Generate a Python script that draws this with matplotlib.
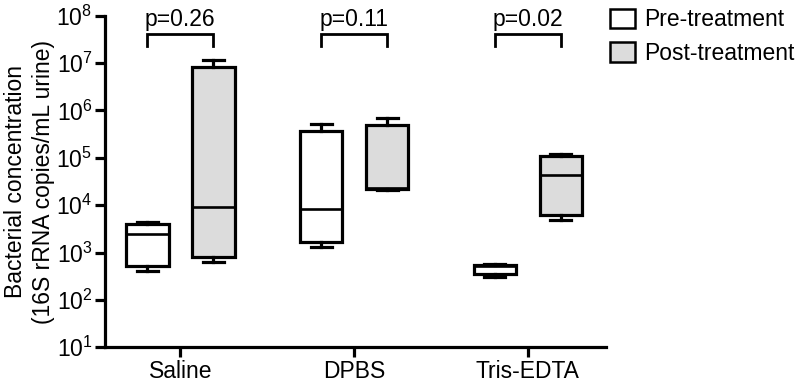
"""Box plots of bacterial load before/after bladder wash, log scale."""
import matplotlib
matplotlib.use("Agg")
import matplotlib.pyplot as plt
from matplotlib.patches import Patch

plt.rcParams["font.family"] = ["Liberation Sans", "DejaVu Sans"]
plt.rcParams["mathtext.fontset"] = "custom"
plt.rcParams["mathtext.rm"] = "Liberation Sans"
plt.rcParams["mathtext.it"] = "Liberation Sans:italic"

# data (16S rRNA copies/mL urine)
groups = ["Saline", "DPBS", "Tris-EDTA"]
series = ["Pre-treatment", "Post-treatment"]
p_values = ["p=0.26", "p=0.11", "p=0.02"]

pre_min = [405, 1320, 310]
pre_q1 = [533, 1700, 345]
pre_med = [2470, 8130, 520]
pre_q3 = [3940, 3.7e5, 550]
pre_max = [4340, 5.3e5, 585]

post_min = [637, 2.14e4, 4860]
post_q1 = [796, 2.2e4, 6080]
post_med = [8950, 2.36e4, 4.4e4]
post_q3 = [8.35e6, 4.9e5, 1.07e5]
post_max = [1.17e7, 6.85e5, 1.22e5]

bracket_top = 4.2e7
bracket_drop = 2.35e7
fills = ["white", "#dcdcdc"]

LW = 2.3
FS = 16.5


def stats(lo, q1, med, q3, hi):
    return [dict(whislo=a, q1=b, med=c, q3=d, whishi=e, fliers=[])
            for a, b, c, d, e in zip(lo, q1, med, q3, hi)]


fig = plt.figure(figsize=(8, 3.85), dpi=100)
ax = fig.add_axes([0.131, 0.098, 0.6265, 0.861])

pos = [1, 2, 3]
offset = 0.19
width = 0.245
props = dict(linewidth=LW, color="black")
for k, st in enumerate([stats(pre_min, pre_q1, pre_med, pre_q3, pre_max),
                        stats(post_min, post_q1, post_med, post_q3, post_max)]):
    sign = -1 if k == 0 else 1
    ax.bxp(st, positions=[p + sign * offset for p in pos], widths=width,
           patch_artist=True, showfliers=False, capwidths=0.12,
           boxprops=dict(linewidth=LW, edgecolor="black", facecolor=fills[k]),
           medianprops=dict(linewidth=LW - 0.4, color="black"),
           whiskerprops=props, capprops=props)

for p, txt in zip(pos, p_values):
    x0, x1 = p - offset, p + offset
    ax.plot([x0, x0, x1, x1], [bracket_drop, bracket_top, bracket_top, bracket_drop],
            color="black", lw=LW - 0.3, solid_joinstyle="miter", clip_on=False)
    ax.text(p, bracket_top * 1.12, txt, ha="center", va="bottom", fontsize=FS)

ax.set_yscale("log")
ax.set_ylim(10, 1e8)
ax.set_yticks([10 ** n for n in range(1, 9)])
ax.minorticks_off()
ax.set_xlim(0.565, 3.45)
ax.set_xticks(pos)
ax.set_xticklabels(groups)
ax.tick_params(labelsize=FS, width=LW, length=7, direction="out")
ax.tick_params(axis="y", pad=2)
ax.tick_params(axis="x", pad=2)
ax.set_ylabel("Bacterial concentration\n(16S rRNA copies/mL urine)", fontsize=FS,
              linespacing=1.25, va="center")
ax.yaxis.set_label_coords(-0.15, 0.5)
for side in ["top", "right"]:
    ax.spines[side].set_visible(False)
for side in ["left", "bottom"]:
    ax.spines[side].set_linewidth(LW)

handles = [Patch(facecolor=fills[i], edgecolor="black", linewidth=1.8, label=series[i])
           for i in range(2)]
ax.legend(handles=handles, loc="upper left", bbox_to_anchor=(0.99, 1.05),
          frameon=False, fontsize=FS, handlelength=1.1, handleheight=0.95,
          handletextpad=0.4, labelspacing=0.45, borderaxespad=0)

fig.savefig("out.png", dpi=100)
